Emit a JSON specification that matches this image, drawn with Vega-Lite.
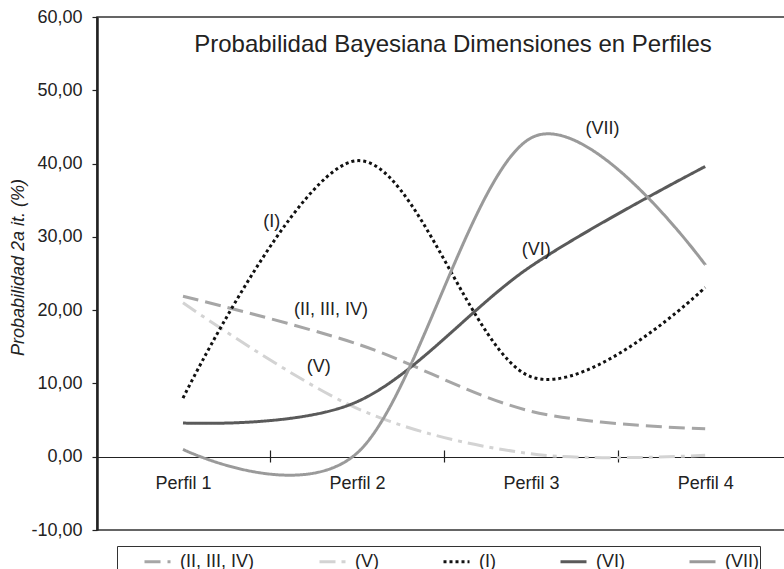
{
  "$schema": "https://vega.github.io/schema/vega-lite/v6.json",
  "autosize": "none",
  "width": 690,
  "height": 513,
  "padding": {"left": 97, "top": 17, "right": 0, "bottom": 39},
  "background": "white",
  "config": {
    "font": "Liberation Sans",
    "view": {"stroke": "#333", "strokeWidth": 1.5}
  },
  "title": {
    "text": "Probabilidad Bayesiana Dimensiones en Perfiles",
    "fontSize": 24,
    "fontWeight": "normal",
    "color": "#222",
    "anchor": "middle",
    "baseline": "alphabetic",
    "offset": -68,
    "dx": 11
  },
  "datasets": {
    "series": [
      {"serie": "(II, III, IV)", "perfil": 1, "valor": 21.9},
      {"serie": "(II, III, IV)", "perfil": 2, "valor": 15.4},
      {"serie": "(II, III, IV)", "perfil": 3, "valor": 6.2},
      {"serie": "(II, III, IV)", "perfil": 4, "valor": 3.8},
      {"serie": "(V)", "perfil": 1, "valor": 21.0},
      {"serie": "(V)", "perfil": 2, "valor": 6.6},
      {"serie": "(V)", "perfil": 3, "valor": 0.4},
      {"serie": "(V)", "perfil": 4, "valor": 0.2},
      {"serie": "(I)", "perfil": 1, "valor": 8.0},
      {"serie": "(I)", "perfil": 2, "valor": 40.4},
      {"serie": "(I)", "perfil": 3, "valor": 10.9},
      {"serie": "(I)", "perfil": 4, "valor": 23.1},
      {"serie": "(VI)", "perfil": 1, "valor": 4.6},
      {"serie": "(VI)", "perfil": 2, "valor": 7.5},
      {"serie": "(VI)", "perfil": 3, "valor": 26.0},
      {"serie": "(VI)", "perfil": 4, "valor": 39.6},
      {"serie": "(VII)", "perfil": 1, "valor": 1.0},
      {"serie": "(VII)", "perfil": 2, "valor": 0.5},
      {"serie": "(VII)", "perfil": 3, "valor": 43.5},
      {"serie": "(VII)", "perfil": 4, "valor": 26.2}
    ],
    "etiquetas": [
      {"texto": "(I)", "perfil": 1.51, "valor": 32.0},
      {"texto": "(II, III, IV)", "perfil": 1.85, "valor": 20.0},
      {"texto": "(V)", "perfil": 1.78, "valor": 12.2},
      {"texto": "(VI)", "perfil": 3.03, "valor": 28.2},
      {"texto": "(VII)", "perfil": 3.41, "valor": 44.7}
    ]
  },
  "encoding": {
    "x": {
      "field": "perfil",
      "type": "quantitative",
      "scale": {"domain": [0.506, 4.47], "nice": false, "zero": false},
      "axis": {
        "title": null,
        "domain": false,
        "grid": false,
        "values": [1, 1.5, 2, 2.5, 3, 3.5, 4],
        "labelExpr": "datum.value % 1 == 0 ? 'Perfil ' + datum.value : ''",
        "tickOpacity": {"condition": {"test": "datum.value % 1 == 0", "value": 0}, "value": 1},
        "offset": -80,
        "tickSize": 12,
        "tickWidth": 1.2,
        "tickColor": "#222",
        "labelFontSize": 18,
        "labelColor": "#222",
        "labelPadding": 12,
        "labelFlush": false,
        "labelOverlap": false
      }
    },
    "y": {
      "field": "valor",
      "type": "quantitative",
      "scale": {"domain": [-10, 60], "nice": false, "zero": false},
      "axis": {
        "title": "Probabilidad 2a it. (%)",
        "titleFontStyle": "italic",
        "titleFontWeight": "normal",
        "titleFontSize": 18,
        "titleColor": "#222",
        "titleX": -70,
        "titleY": 250,
        "values": [-10, 0, 10, 20, 30, 40, 50, 60],
        "labelExpr": "replace(replace(format(datum.value, '.2f'), '.', ','), '\u2212', '-')",
        "labelFontSize": 18,
        "labelColor": "#222",
        "labelPadding": 10,
        "tickSize": 5,
        "tickColor": "#222",
        "tickWidth": 1.2,
        "domainColor": "#222",
        "domainWidth": 2.5,
        "grid": true,
        "gridColor": "#222",
        "gridWidth": 1.2,
        "gridOpacity": {"condition": {"test": "datum.value == 0", "value": 1}, "value": 0},
        "labelFlush": false
      }
    }
  },
  "layer": [
    {
      "data": {"name": "series"},
      "mark": {"type": "line", "interpolate": "cardinal"},
      "encoding": {
        "color": {
          "field": "serie",
          "type": "nominal",
          "scale": {
            "domain": ["(II, III, IV)", "(V)", "(I)", "(VI)", "(VII)"],
            "range": ["#a6a6a6", "#d3d3d3", "#111111", "#5a5a5a", "#9a9a9a"]
          },
          "legend": {
            "title": " ",
            "titleOrient": "left",
            "titlePadding": 25,
            "orient": "none",
            "legendX": 20,
            "legendY": 529,
            "direction": "horizontal",
            "columns": 5,
            "columnPadding": 58,
            "padding": 1,
            "strokeColor": "#333",
            "fillColor": "white",
            "symbolType": "stroke",
            "symbolSize": 676,
            "labelFontSize": 18,
            "labelColor": "#222",
            "labelOffset": 8,
            "labelExpr": "datum.label == '(VII)' ? datum.label + '        ' : datum.label"
          }
        },
        "strokeDash": {
          "field": "serie",
          "type": "nominal",
          "scale": {
            "domain": ["(II, III, IV)", "(V)", "(I)", "(VI)", "(VII)"],
            "range": [[16, 7], [16, 6, 4, 6], [3, 3], [1, 0], [1, 0]]
          },
          "legend": {
            "title": " ",
            "titleOrient": "left",
            "titlePadding": 25,
            "orient": "none",
            "legendX": 20,
            "legendY": 529,
            "direction": "horizontal",
            "columns": 5,
            "columnPadding": 58,
            "padding": 1,
            "strokeColor": "#333",
            "fillColor": "white",
            "symbolType": "stroke",
            "symbolSize": 676,
            "labelFontSize": 18,
            "labelColor": "#222",
            "labelOffset": 8,
            "labelExpr": "datum.label == '(VII)' ? datum.label + '        ' : datum.label"
          }
        },
        "strokeWidth": {
          "field": "serie",
          "type": "nominal",
          "scale": {
            "domain": ["(II, III, IV)", "(V)", "(I)", "(VI)", "(VII)"],
            "range": [3, 3, 3.5, 1.6, 1.6]
          },
          "legend": {
            "title": " ",
            "titleOrient": "left",
            "titlePadding": 25,
            "orient": "none",
            "legendX": 20,
            "legendY": 529,
            "direction": "horizontal",
            "columns": 5,
            "columnPadding": 58,
            "padding": 1,
            "strokeColor": "#333",
            "fillColor": "white",
            "symbolType": "stroke",
            "symbolSize": 676,
            "labelFontSize": 18,
            "labelColor": "#222",
            "labelOffset": 8,
            "labelExpr": "datum.label == '(VII)' ? datum.label + '        ' : datum.label"
          }
        }
      }
    },
    {
      "data": {"name": "etiquetas"},
      "mark": {"type": "text", "fontSize": 18, "color": "#222", "align": "center", "baseline": "middle"},
      "encoding": {
        "text": {"field": "texto"}
      }
    }
  ]
}
